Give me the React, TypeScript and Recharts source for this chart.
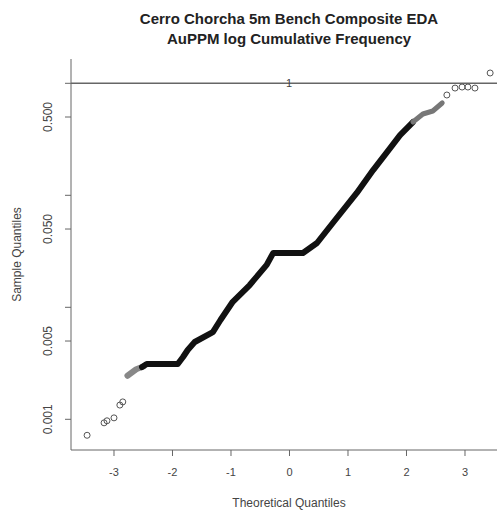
import { ComposedChart, Line, Scatter, XAxis, YAxis, ReferenceLine } from "recharts"

// normal QQ plot of AuPPM (log scale)
const lowTailQ = [-3.46, -3.17, -3.12, -3.0, -2.9, -2.85]
const lowTailS = [0.00072, 0.00093, 0.00097, 0.00103, 0.00134, 0.00143]

const lowBandQ = [-2.77, -2.62, -2.5]
const lowBandS = [0.00245, 0.0028, 0.00296]

const bodyQ = [-2.52, -2.44, -1.91, -1.82, -1.74, -1.62, -1.31, -1.18, -0.97, -0.68, -0.39, -0.28, 0.23, 0.47, 0.74, 1.15, 1.43, 1.72, 1.89, 2.11]
const bodyS = [0.00293, 0.00312, 0.00312, 0.0036, 0.00416, 0.0049, 0.006, 0.0077, 0.0112, 0.0158, 0.0239, 0.0305, 0.0305, 0.0375, 0.0566, 0.105, 0.168, 0.264, 0.345, 0.451]

const upBandQ = [2.11, 2.28, 2.45, 2.61]
const upBandS = [0.451, 0.532, 0.566, 0.667]

const upTailQ = [2.69, 2.83, 2.95, 3.05, 3.17, 3.43]
const upTailS = [0.786, 0.907, 0.926, 0.926, 0.907, 1.236]

const xTicks = [-3, -2, -1, 0, 1, 2, 3]
const yTicks = [0.001, 0.005, 0.01, 0.05, 0.1, 0.5, 1]
const yTickLabels: Record<string, string> = {
  "0.001": "0.001",
  "0.005": "0.005",
  "0.05": "0.050",
  "0.5": "0.500",
}

const pts = (q: number[], s: number[]) => q.map((v, i) => ({ q: v, s: s[i] }))

const xDomain = [-3.735, 3.718]
const yDomain = [0.000532, 1.648]
const axisColor = "#666"
const textColor = "#444"
const font = "'Liberation Sans', Arial, sans-serif"

function YTick(props: any) {
  const { x, y, payload } = props
  const label = yTickLabels[String(payload.value)] ?? ""
  if (!label) return null
  const cx = x - 17
  return (
    <text
      x={cx}
      y={y}
      transform={`rotate(-90, ${cx}, ${y})`}
      textAnchor="middle"
      dominantBaseline="central"
      fontSize={12}
      fill={textColor}
      fontFamily={font}
    >
      {label}
    </text>
  )
}

function OpenCircle(props: any) {
  const { cx, cy } = props
  return <circle cx={cx} cy={cy} r={3} fill="none" stroke="#555" strokeWidth={1} />
}

export default function App() {
  return (
    <div style={{ position: "absolute", left: 0, top: 0, width: 497, height: 512, overflow: "hidden", background: "#fff" }}>
      <div
        style={{
          position: "absolute",
          left: 0,
          width: 578,
          top: 9,
          textAlign: "center",
          fontFamily: font,
          fontWeight: "bold",
          fontSize: 15,
          lineHeight: "20px",
          color: "#222",
        }}
      >
        Cerro Chorcha 5m Bench Composite EDA
        <br />
        AuPPM log Cumulative Frequency
      </div>
      <ComposedChart width={512} height={512} margin={{ top: 59, right: 5, bottom: 2, left: 11 }}>
        <XAxis
          dataKey="q"
          type="number"
          domain={xDomain}
          allowDataOverflow
          ticks={xTicks}
          tickSize={6}
          tickMargin={12}
          height={60}
          stroke={axisColor}
          tick={{ fontSize: 11, fill: textColor, fontFamily: font }}
          label={{ value: "Theoretical Quantiles", position: "insideBottom", offset: 3, fontSize: 12, fill: textColor, fontFamily: font }}
        />
        <XAxis
          xAxisId="top"
          orientation="top"
          dataKey="q"
          type="number"
          domain={xDomain}
          allowDataOverflow
          tick={false}
          tickLine={false}
          height={0}
          stroke={axisColor}
        />
        <YAxis
          dataKey="s"
          type="number"
          scale="log"
          domain={yDomain}
          allowDataOverflow
          ticks={yTicks}
          tickSize={6}
          tickMargin={0}
          width={60}
          stroke={axisColor}
          tick={<YTick />}
          label={{
            value: "Sample Quantiles",
            angle: -90,
            position: "insideLeft",
            offset: 6,
            fontSize: 12,
            fill: textColor,
            fontFamily: font,
            style: { textAnchor: "middle" },
          }}
        />
        <ReferenceLine
          y={1}
          stroke={axisColor}
          strokeWidth={1.5}
          label={{ value: "1", position: "center", fontSize: 11, fill: textColor, fontFamily: font }}
        />
        <Line data={pts(lowBandQ, lowBandS)} dataKey="s" stroke="#888" strokeWidth={6} dot={false} strokeLinecap="round" strokeLinejoin="round" isAnimationActive={false} />
        <Line data={pts(bodyQ, bodyS)} dataKey="s" stroke="#111" strokeWidth={6} dot={false} strokeLinecap="round" strokeLinejoin="round" isAnimationActive={false} />
        <Line data={pts(upBandQ, upBandS)} dataKey="s" stroke="#777" strokeWidth={5} dot={false} strokeLinecap="round" strokeLinejoin="round" isAnimationActive={false} />
        <Scatter data={pts(lowTailQ, lowTailS)} dataKey="s" shape={<OpenCircle />} isAnimationActive={false} />
        <Scatter data={pts(upTailQ, upTailS)} dataKey="s" shape={<OpenCircle />} isAnimationActive={false} />
      </ComposedChart>
    </div>
  )
}
